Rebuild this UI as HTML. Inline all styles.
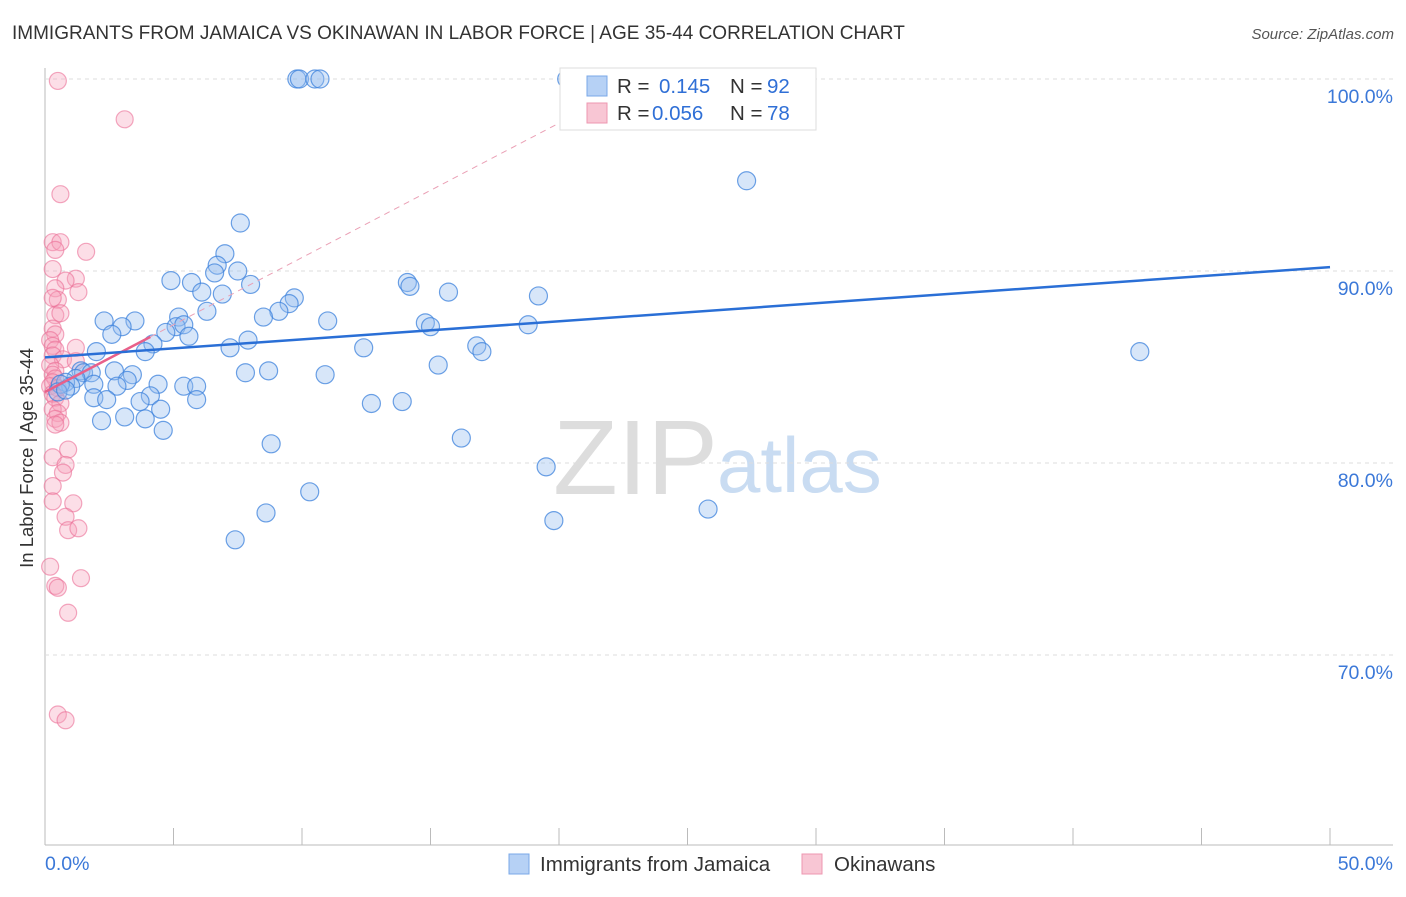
<!DOCTYPE html>
<html><head><meta charset="utf-8"><style>
body{margin:0;background:#fff;font-family:"Liberation Sans",sans-serif}
svg text{font-family:"Liberation Sans",sans-serif}
</style></head><body>
<svg id="c" width="1406" height="892">
<text x="12" y="39" font-size="19" fill="#333">IMMIGRANTS FROM JAMAICA VS OKINAWAN IN LABOR FORCE | AGE 35-44 CORRELATION CHART</text>
<text x="1394" y="39" font-size="15" fill="#555" font-style="italic" text-anchor="end">Source: ZipAtlas.com</text>
<text x="33" y="458" font-size="18.5" fill="#333" text-anchor="middle" transform="rotate(-90 33 458)">In Labor Force | Age 35-44</text>
<g><text x="553" y="494" font-size="106" font-family="Liberation Serif" fill="#ddd">ZIP</text><text x="717" y="492" font-size="78" fill="#c9dcf2">atlas</text></g>
<g id="grid"></g><g id="marks"></g>
<g>
<rect x="560" y="68" width="256" height="62" fill="#fff" stroke="#ddd"/>
<rect x="587" y="76" width="20" height="20" fill="#b6d1f5" stroke="#7aa8e8"/>
<text x="617" y="93" font-size="20.5" fill="#333">R =</text><text x="659" y="93" font-size="20.5" fill="#2f6fd6">0.145</text>
<text x="730" y="93" font-size="20.5" fill="#333">N =</text><text x="767" y="93" font-size="20.5" fill="#2f6fd6">92</text>
<rect x="587" y="103" width="20" height="20" fill="#f8c6d4" stroke="#ee97b0"/>
<text x="617" y="120" font-size="20.5" fill="#333">R =</text><text x="652" y="120" font-size="20.5" fill="#2f6fd6">0.056</text>
<text x="730" y="120" font-size="20.5" fill="#333">N =</text><text x="767" y="120" font-size="20.5" fill="#2f6fd6">78</text>
</g>
<g>
<rect x="509" y="854" width="20" height="20" fill="#b6d1f5" stroke="#7aa8e8"/>
<text x="540" y="871" font-size="20.5" fill="#333">Immigrants from Jamaica</text>
<rect x="802" y="854" width="20" height="20" fill="#f8c6d4" stroke="#ee97b0"/>
<text x="834" y="871" font-size="20.5" fill="#333">Okinawans</text>
</g>
</svg>
<script>
const yTicks=[70,80,90,100];
const xTickVals=[0,5,10,15,20,25,30,35,40,45,50];
const blueX=[20.3,9.8,9.9,10.5,10.7,27.3,7.6,7.0,4.9,5.7,6.7,6.6,7.5,8.0,6.1,6.9,6.3,9.7,9.5,9.1,8.5,14.1,14.2,15.7,19.2,11.0,2.3,3.5,3.0,2.6,5.2,5.1,5.4,5.6,4.7,14.8,15.0,18.8,7.9,7.2,4.2,3.9,2.0,12.4,16.8,17.0,42.6,15.3,7.8,8.7,10.9,2.7,3.4,1.4,1.5,1.8,1.2,4.4,5.4,5.9,3.2,2.8,1.9,0.8,1.0,0.6,0.5,0.8,4.1,1.9,2.4,3.7,5.9,4.5,12.7,13.9,3.1,2.2,3.9,4.6,16.2,8.8,19.5,10.3,8.6,25.8,19.8,7.4];
const blueY=[100,100,100,100,100,94.7,92.5,90.9,89.5,89.4,90.3,89.9,90.0,89.3,88.9,88.8,87.9,88.6,88.3,87.9,87.6,89.4,89.2,88.9,88.7,87.4,87.4,87.4,87.1,86.7,87.6,87.1,87.2,86.6,86.8,87.3,87.1,87.2,86.4,86.0,86.2,85.8,85.8,86.0,86.1,85.8,85.8,85.1,84.7,84.8,84.6,84.8,84.6,84.8,84.7,84.7,84.4,84.1,84.0,84.0,84.3,84.0,84.1,84.2,84.0,84.1,83.7,83.8,83.5,83.4,83.3,83.2,83.3,82.8,83.1,83.2,82.4,82.2,82.3,81.7,81.3,81.0,79.8,78.5,77.4,77.6,77.0,76.0];
const pinkX=[0.5,3.1,0.6,0.3,0.6,1.6,0.4,0.3,1.2,0.8,0.4,1.3,0.5,0.3,0.4,0.6,0.3,0.4,0.2,0.3,0.4,1.2,0.3,0.7,1.2,0.2,0.4,0.3,0.4,0.3,0.2,0.5,0.3,0.4,0.6,0.3,0.5,0.4,0.6,0.4,0.9,0.3,0.8,0.7,0.3,0.3,1.1,0.8,0.9,1.3,0.2,1.4,0.4,0.5,0.9,0.5,0.8];
const pinkY=[99.9,97.9,94.0,91.5,91.5,91.0,91.1,90.1,89.6,89.5,89.1,88.9,88.5,88.6,87.7,87.8,87.0,86.7,86.4,86.1,85.9,86.0,85.6,85.4,85.3,85.1,84.8,84.6,84.4,84.2,84.0,83.9,83.6,83.4,83.1,82.8,82.6,82.3,82.1,82.0,80.7,80.3,79.9,79.5,78.8,78.0,77.9,77.2,76.5,76.6,74.6,74.0,73.6,73.5,72.2,66.9,66.6];
const blueTrend=[85.5,90.2];
const pinkTrend=[83.7,0.7];
const NS="http://www.w3.org/2000/svg";
const X=v=>45+v*25.7, Y=v=>79+(100-v)*19.2;
function mk(t,a,p){const e=document.createElementNS(NS,t);for(const k in a)e.setAttribute(k,a[k]);p.appendChild(e);return e;}
const g=document.getElementById('grid'),m=document.getElementById('marks');
mk('line',{x1:45,y1:68,x2:45,y2:845,stroke:'#bbb'},g);
mk('line',{x1:45,y1:845,x2:1393,y2:845,stroke:'#bbb'},g);
yTicks.forEach(v=>{const l=mk('line',{x1:45,y1:Y(v),x2:1393,y2:Y(v),stroke:'#ddd','stroke-dasharray':'4,4'},g);


const t=mk('text',{x:1393,y:Y(v)+24,'font-size':19.5,fill:'#3b78d8','text-anchor':'end'},g);t.textContent=v.toFixed(1)+'%';

});
xTickVals.forEach(v=>{const l=mk('line',{x1:X(v),y1:828,x2:X(v),y2:845,stroke:'#bbb'},g);

});
let t=mk('text',{x:45,y:870,'font-size':19.5,fill:'#3b78d8'},g);t.textContent='0.0%';


t=mk('text',{x:1393,y:870,'font-size':19.5,fill:'#3b78d8','text-anchor':'end'},g);t.textContent='50.0%';


pinkX.forEach((x,i)=>{const c=mk('circle',{cx:X(x),cy:Y(pinkY[i]),r:8.5,fill:'rgba(246,160,185,0.35)',stroke:'rgba(235,110,150,0.6)','stroke-width':1.2},m);

});
blueX.forEach((x,i)=>{const c=mk('circle',{cx:X(x),cy:Y(blueY[i]),r:9,fill:'rgba(150,190,240,0.38)',stroke:'rgba(60,130,220,0.75)','stroke-width':1.2},m);

});
let l=mk('line',{x1:X(4.1),y1:Y(pinkTrend[0]+pinkTrend[1]*4.1),x2:X(21.5),y2:Y(pinkTrend[0]+pinkTrend[1]*21.5),stroke:'#eaa0b5','stroke-dasharray':'6,5'},m);


l=mk('line',{x1:X(0),y1:Y(pinkTrend[0]),x2:X(4.1),y2:Y(pinkTrend[0]+pinkTrend[1]*4.1),stroke:'#e8608a','stroke-width':2.5},m);


l=mk('line',{x1:X(0),y1:Y(blueTrend[0]),x2:X(50),y2:Y(blueTrend[1]),stroke:'#2a6fd6','stroke-width':2.5},m);


</script>
</body></html>
